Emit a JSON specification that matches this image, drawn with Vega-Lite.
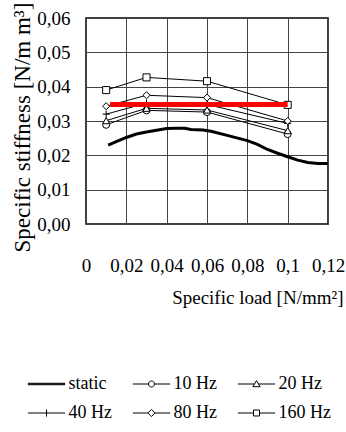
{
  "$schema": "https://vega.github.io/schema/vega-lite/v6.json",
  "width": 242,
  "height": 206,
  "autosize": {"type": "none"},
  "padding": {"left": 86, "top": 18, "right": 18, "bottom": 208},
  "background": "white",
  "config": {
    "font": "Liberation Serif",
    "view": {"stroke": "black", "strokeWidth": 1.5},
    "axis": {
      "grid": true, "gridColor": "#444", "gridOpacity": 1, "gridWidth": 1,
      "domain": false, "ticks": false, "labelOverlap": false, "labelFlush": false,
      "labelFont": "Liberation Serif", "labelFontSize": 19, "labelColor": "black",
      "titleFont": "Liberation Serif", "titleFontWeight": "normal", "titleColor": "black"
    },
    "legend": {"labelFont": "Liberation Serif"}
  },
  "data": {"values": [
    {"series": "static", "x": 0.011, "y": 0.0230},
    {"series": "static", "x": 0.015, "y": 0.0240},
    {"series": "static", "x": 0.020, "y": 0.0252},
    {"series": "static", "x": 0.025, "y": 0.0262},
    {"series": "static", "x": 0.030, "y": 0.0268},
    {"series": "static", "x": 0.035, "y": 0.0273},
    {"series": "static", "x": 0.040, "y": 0.0278},
    {"series": "static", "x": 0.045, "y": 0.0279},
    {"series": "static", "x": 0.049, "y": 0.0279},
    {"series": "static", "x": 0.052, "y": 0.0275},
    {"series": "static", "x": 0.058, "y": 0.0274},
    {"series": "static", "x": 0.062, "y": 0.0270},
    {"series": "static", "x": 0.070, "y": 0.0258},
    {"series": "static", "x": 0.080, "y": 0.0243},
    {"series": "static", "x": 0.085, "y": 0.0232},
    {"series": "static", "x": 0.090, "y": 0.0217},
    {"series": "static", "x": 0.095, "y": 0.0206},
    {"series": "static", "x": 0.100, "y": 0.0196},
    {"series": "static", "x": 0.105, "y": 0.0186},
    {"series": "static", "x": 0.110, "y": 0.0179},
    {"series": "static", "x": 0.115, "y": 0.0176},
    {"series": "static", "x": 0.120, "y": 0.0176},
    {"series": "10 Hz", "x": 0.01, "y": 0.0289},
    {"series": "10 Hz", "x": 0.03, "y": 0.0331},
    {"series": "10 Hz", "x": 0.06, "y": 0.0326},
    {"series": "10 Hz", "x": 0.10, "y": 0.0262},
    {"series": "20 Hz", "x": 0.01, "y": 0.0301},
    {"series": "20 Hz", "x": 0.03, "y": 0.0337},
    {"series": "20 Hz", "x": 0.06, "y": 0.0332},
    {"series": "20 Hz", "x": 0.10, "y": 0.0272},
    {"series": "40 Hz", "x": 0.01, "y": 0.0320},
    {"series": "40 Hz", "x": 0.03, "y": 0.0352},
    {"series": "40 Hz", "x": 0.06, "y": 0.0348},
    {"series": "40 Hz", "x": 0.10, "y": 0.0293},
    {"series": "80 Hz", "x": 0.01, "y": 0.0343},
    {"series": "80 Hz", "x": 0.03, "y": 0.0375},
    {"series": "80 Hz", "x": 0.06, "y": 0.0368},
    {"series": "80 Hz", "x": 0.10, "y": 0.0300},
    {"series": "160 Hz", "x": 0.01, "y": 0.0390},
    {"series": "160 Hz", "x": 0.03, "y": 0.0427},
    {"series": "160 Hz", "x": 0.06, "y": 0.0416},
    {"series": "160 Hz", "x": 0.10, "y": 0.0347},
    {"series": "reference", "x": 0.012, "y": 0.0348},
    {"series": "reference", "x": 0.100, "y": 0.0348}
  ]},
  "encoding": {
    "x": {
      "field": "x", "type": "quantitative",
      "scale": {"domain": [0, 0.12], "nice": false, "zero": false},
      "axis": {
        "values": [0, 0.02, 0.04, 0.06, 0.08, 0.1, 0.12],
        "labelExpr": "replace(format(datum.value, '~g'), '.', ',')",
        "labelPadding": 32,
        "title": "Specific load [N/mm²]",
        "titleFontSize": 19,
        "titleX": 257, "titleY": 73,
        "titleAlign": "right", "titleBaseline": "middle", "titleAnchor": null
      }
    },
    "y": {
      "field": "y", "type": "quantitative",
      "scale": {"domain": [0, 0.06], "nice": false, "zero": false},
      "axis": {
        "values": [0, 0.01, 0.02, 0.03, 0.04, 0.05, 0.06],
        "labelExpr": "replace(format(datum.value, '.2f'), '.', ',')",
        "labelPadding": 16,
        "title": "Specific stiffness [N/m m³]",
        "titleFontSize": 23,
        "titleX": -64, "titleY": 109,
        "titleAngle": -90, "titleAlign": "center", "titleBaseline": "middle", "titleAnchor": null
      }
    }
  },
  "resolve": {"scale": {"shape": "independent"}, "legend": {"shape": "independent"}},
  "layer": [
    {
      "transform": [{"filter": "datum.series === 'static'"}],
      "mark": {"type": "line", "color": "black", "strokeWidth": 3},
      "encoding": {}
    },
    {
      "transform": [{"filter": "datum.series !== 'static' && datum.series !== 'reference'"}],
      "mark": {"type": "line", "color": "black", "strokeWidth": 1},
      "encoding": {"detail": {"field": "series"}}
    },
    {
      "transform": [{"filter": "datum.series !== 'static' && datum.series !== 'reference'"}],
      "mark": {"type": "point", "filled": true, "fill": "white", "stroke": "black", "strokeWidth": 1, "size": 50, "opacity": 1},
      "encoding": {
        "shape": {
          "field": "series", "type": "nominal",
          "scale": {
            "domain": ["10 Hz", "20 Hz", "40 Hz", "80 Hz", "160 Hz"],
            "range": ["circle", "triangle-up", "M-1,0H1M0,-1V1", "diamond", "square"]
          },
          "legend": null
        }
      }
    },
    {
      "transform": [{"filter": "datum.series === 'none'"}],
      "mark": {"type": "point", "filled": false, "color": "black", "strokeWidth": 1, "opacity": 1},
      "encoding": {
        "shape": {
          "field": "series", "type": "nominal",
          "scale": {
            "domain": ["static", "10 Hz", "20 Hz", "40 Hz", "80 Hz", "160 Hz"],
            "range": [
              "M-3.1,-0.12H3.1M-3.1,0H3.1M-3.1,0.12H3.1",
              "M-3.1,0H-0.5M0.5,0H3.1M0.5,0A0.5,0.5,0,1,1,-0.5,0A0.5,0.5,0,1,1,0.5,0Z",
              "M-3.1,0H-0.33M0.33,0H3.1M0,-0.55L0.6,0.45L-0.6,0.45Z",
              "M-3.1,0H3.1M0,-0.6V0.6",
              "M-3.1,0H-0.6M0.6,0H3.1M0,-0.6L0.6,0L0,0.6L-0.6,0Z",
              "M-3.1,0H-0.5M0.5,0H3.1M-0.5,-0.5H0.5V0.5H-0.5Z"
            ]
          },
          "legend": {
            "orient": "none", "legendX": -79, "legendY": 357,
            "direction": "horizontal", "columns": 3,
            "title": null, "padding": 0,
            "symbolSize": 144, "symbolOffset": 30.5, "labelOffset": 13,
            "symbolStrokeWidth": 1, "symbolStrokeColor": "black",
            "labelFontSize": 18, "labelColor": "black",
            "columnPadding": -1, "rowPadding": 11
          }
        }
      }
    },
    {
      "transform": [{"filter": "datum.series === 'reference'"}],
      "mark": {"type": "line", "color": "#ff0000", "strokeWidth": 5},
      "encoding": {}
    }
  ]
}
